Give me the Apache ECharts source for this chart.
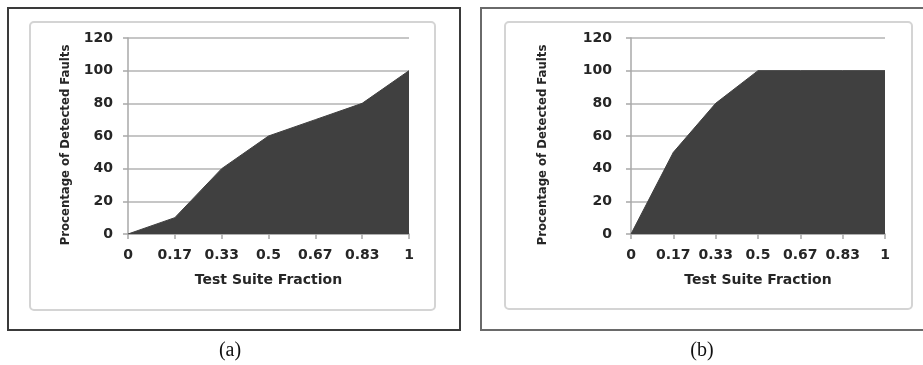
<!DOCTYPE html>
<html>
<head>
<meta charset="utf-8">
<script src="https://cdn.jsdelivr.net/npm/echarts@6/dist/echarts.min.js"></script>
<style>
  html, body { margin: 0; padding: 0; background: #fff; }
  #chart { width: 923px; height: 365px; }
</style>
</head>
<body>
<div id="chart"></div>
<script>
// Test-suite fractions shared by both panels
const fractions = ['0', '0.17', '0.33', '0.5', '0.67', '0.83', '1'];
// Percentage of detected faults, panel (a)
const faultsA = [0, 10, 40, 60, 70, 80, 100];
// Percentage of detected faults, panel (b)
const faultsB = [0, 50, 80, 100, 100, 100, 100];
// Value axis ticks
const yTicks = { min: 0, max: 120, step: 20 };

const xTitle = 'Test Suite Fraction';
const yTitle = 'Procentage of Detected Faults';
const panelLabels = ['(a)', '(b)'];

const FONT = '"DejaVu Sans", sans-serif';
const FONT_NARROW = '"DejaVu Sans Condensed", "DejaVu Sans", sans-serif';
const TEXT = '#262626';
const FILL = '#404040';
const GRID = '#c6c6c6';

function makeX(gridIndex) {
  return {
    type: 'category',
    gridIndex: gridIndex,
    data: fractions,
    boundaryGap: false,
    name: xTitle,
    nameLocation: 'middle',
    nameGap: 39,
    nameTextStyle: { fontFamily: FONT, fontWeight: 'bold', fontSize: 14, color: TEXT },
    axisLine: { lineStyle: { color: '#a8a8a8', width: 1.5 } },
    axisTick: { show: true, length: 5, alignWithLabel: true, lineStyle: { color: '#a8a8a8', width: 1.5 } },
    axisLabel: { margin: 14, fontFamily: FONT, fontWeight: 'bold', fontSize: 14, color: TEXT, interval: 0 },
    splitLine: { show: false }
  };
}

function makeY(gridIndex, nameGap, labelMargin) {
  return {
    type: 'value',
    gridIndex: gridIndex,
    min: yTicks.min,
    max: yTicks.max,
    interval: yTicks.step,
    name: yTitle,
    nameLocation: 'middle',
    nameRotate: 90,
    nameGap: nameGap,
    // title sits a little below the plot's vertical centre
    nameTextStyle: { fontFamily: FONT_NARROW, fontWeight: 'bold', fontSize: 13, color: TEXT,
                     padding: [0, 18, 0, 0] },
    axisLine: { show: true, lineStyle: { color: '#a8a8a8', width: 1.5 } },
    axisTick: { show: true, length: 5, lineStyle: { color: '#a8a8a8', width: 1.5 } },
    axisLabel: { margin: labelMargin, fontFamily: FONT, fontWeight: 'bold', fontSize: 14, color: TEXT },
    splitLine: { show: true, lineStyle: { color: GRID, width: 2 } }
  };
}

function makeArea(values, idx) {
  return {
    type: 'line',
    xAxisIndex: idx,
    yAxisIndex: idx,
    data: values,
    symbol: 'none',
    smooth: false,
    lineStyle: { color: FILL, width: 1 },
    areaStyle: { color: FILL, opacity: 1 },
    z: 3
  };
}

const chart = echarts.init(document.getElementById('chart'), null, { renderer: 'canvas' });

chart.setOption({
  animation: false,
  backgroundColor: '#ffffff',
  grid: [
    { left: 128, top: 38, width: 281, height: 196 },
    { left: 631, top: 38, width: 254, height: 196 }
  ],
  xAxis: [makeX(0), makeX(1)],
  yAxis: [makeY(0, 56, 15), makeY(1, 82, 19)],
  series: [makeArea(faultsA, 0), makeArea(faultsB, 1)],
  graphic: [
    // outer frames
    { type: 'rect', shape: { x: 8, y: 8, width: 452, height: 322 },
      style: { fill: 'none', stroke: '#3a3a3a', lineWidth: 2 }, z: 0 },
    { type: 'rect', shape: { x: 481, y: 8, width: 460, height: 322 },
      style: { fill: 'none', stroke: '#6a6a6a', lineWidth: 2 }, z: 0 },
    // chart-area frames
    { type: 'rect', shape: { x: 30, y: 22, width: 405, height: 288, r: 4 },
      style: { fill: 'none', stroke: '#d4d4d4', lineWidth: 2 }, z: 0 },
    { type: 'rect', shape: { x: 505, y: 22, width: 407, height: 287, r: 4 },
      style: { fill: 'none', stroke: '#d4d4d4', lineWidth: 2 }, z: 0 },
    // panel captions
    { type: 'text', x: 230, y: 351,
      style: { text: panelLabels[0], font: '20px "Liberation Serif", "DejaVu Serif", serif',
               fill: '#111', align: 'center', verticalAlign: 'middle' } },
    { type: 'text', x: 702, y: 351,
      style: { text: panelLabels[1], font: '20px "Liberation Serif", "DejaVu Serif", serif',
               fill: '#111', align: 'center', verticalAlign: 'middle' } }
  ]
});
</script>
</body>
</html>
